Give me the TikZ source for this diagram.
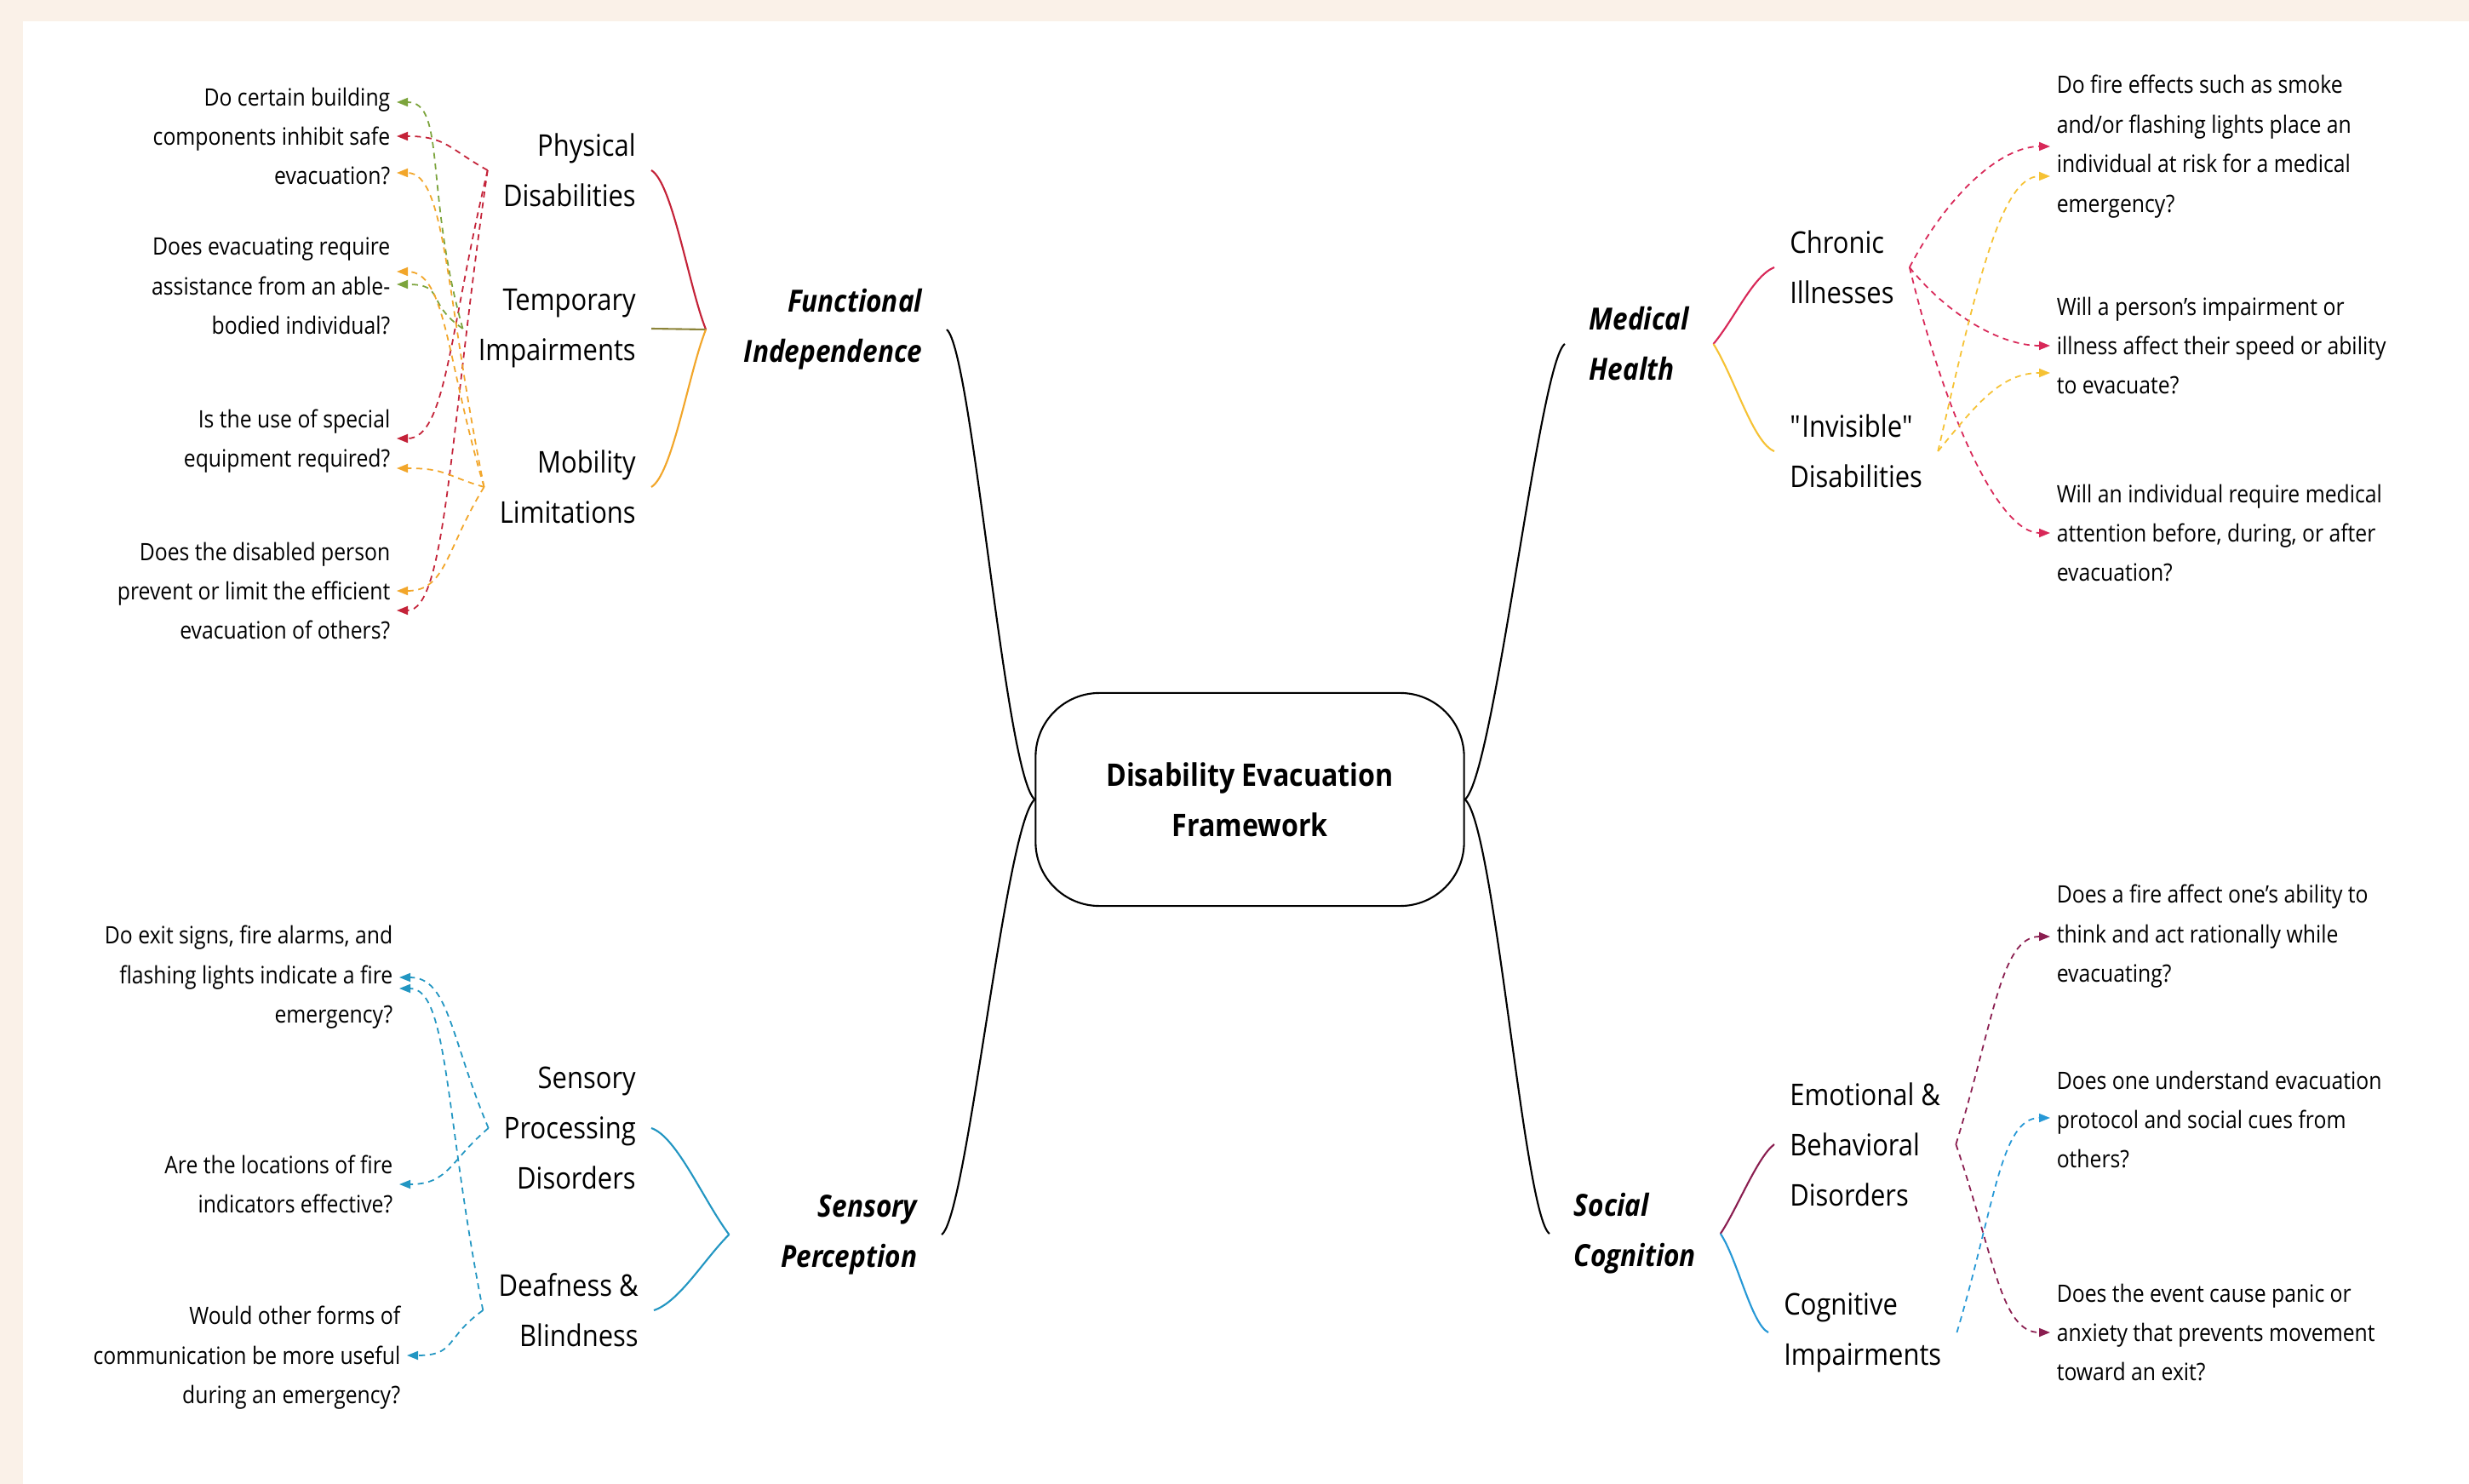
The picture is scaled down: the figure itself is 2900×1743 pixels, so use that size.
\documentclass[tikz,border=0pt]{standalone}
\usepackage{fontspec}
\setmainfont{Open Sans}[FakeStretch=0.88]
\usetikzlibrary{arrows.meta,calc}

\definecolor{ccpaper}{RGB}{250,241,232}
\definecolor{ccphys}{RGB}{196,34,56}
\definecolor{cctemp}{RGB}{124,164,60}
\definecolor{cctempline}{RGB}{140,132,58}
\definecolor{ccmob}{RGB}{242,166,42}
\definecolor{ccsens}{RGB}{34,150,194}
\definecolor{ccchron}{RGB}{216,40,88}
\definecolor{ccinvis}{RGB}{246,194,52}
\definecolor{ccemot}{RGB}{138,30,80}
\definecolor{cccog}{RGB}{38,152,214}

\begin{document}
\begin{tikzpicture}[x=0.01cm, y=-0.01cm,
  main/.style={font=\fontsize{10.2}{16.8}\selectfont\bfseries\itshape, inner sep=8pt},
  topic/.style={font=\fontsize{10}{16.8}\selectfont, inner sep=5pt},
  ask/.style={font=\fontsize{8}{13.2}\selectfont, inner sep=2pt},
  branch/.style={line width=0.6pt},
  link/.style={line width=0.5pt, dash pattern=on 2pt off 1.6pt, -{Triangle[length=1.3mm,width=1mm]}}]

  % Paper
  \fill[ccpaper] (0,0) rectangle (2900,1743);
  \fill[white] (27,25) rectangle (2900,1743);

  % Centre
  \node[draw, line width=0.6pt, rounded corners=0.75cm, minimum width=5.03cm, minimum height=2.5cm,
        align=center, font=\fontsize{10.4}{16.8}\selectfont\bfseries] (def) at (1468,939)
        {Disability Evacuation\\Framework};

  % Main branches
  \node[main, anchor=east, align=right] (func) at (1112,387) {Functional\\Independence};
  \node[main, anchor=west, align=left] (med) at (1838,404) {Medical\\Health};
  \node[main, anchor=east, align=right] (sens) at (1106,1450) {Sensory\\Perception};
  \node[main, anchor=west, align=left] (soc) at (1820,1449) {Social\\Cognition};

  \draw[branch] (def.west) .. controls +(-35,-30) and +(30,25) .. (func.east);
  \draw[branch] (def.west) .. controls +(-35,30) and +(30,-20) .. (sens.east);
  \draw[branch] (def.east) .. controls +(35,-30) and +(-30,20) .. (med.west);
  \draw[branch] (def.east) .. controls +(35,30) and +(-30,-20) .. (soc.west);

  % Topics
  \node[topic, anchor=east, align=right] (phys) at (765,200) {Physical\\Disabilities};
  \node[topic, anchor=east, align=right] (temp) at (765,386) {Temporary\\Impairments};
  \node[topic, anchor=east, align=right] (mob) at (765,572) {Mobility\\Limitations};
  \node[topic, anchor=east, align=right] (spd) at (765,1325) {Sensory\\Processing\\Disorders};
  \node[topic, anchor=east, align=right] (deaf) at (768,1539) {Deafness \&\\Blindness};
  \node[topic, anchor=west, align=left] (chron) at (2084,314) {Chronic\\Illnesses};
  \node[topic, anchor=west, align=left] (invis) at (2084,530) {\textquotedbl Invisible\textquotedbl\\Disabilities};
  \node[topic, anchor=west, align=left] (emot) at (2084,1344) {Emotional \&\\Behavioral\\Disorders};
  \node[topic, anchor=west, align=left] (cog) at (2077,1565) {Cognitive\\Impairments};

  % Braces
  \coordinate (funcTip) at ($(func.west)+(-16,0)$);
  \coordinate (sensTip) at ($(sens.west)+(-32,0)$);
  \draw[branch, ccphys] (funcTip) .. controls +(-20,-50) and +(25,15) .. (phys.east);
  \draw[branch, cctempline] (funcTip) -- (temp.east);
  \draw[branch, ccmob] (funcTip) .. controls +(-20,50) and +(25,-15) .. (mob.east);
  \draw[branch, ccsens] (sensTip) .. controls +(-30,-40) and +(30,10) .. (spd.east);
  \draw[branch, ccsens] (sensTip) .. controls +(-30,30) and +(30,-10) .. (deaf.east);
  \draw[branch, ccchron] (med.east) .. controls +(25,-30) and +(-25,10) .. (chron.west);
  \draw[branch, ccinvis] (med.east) .. controls +(25,40) and +(-25,-10) .. (invis.west);
  \draw[branch, ccemot] (soc.east) .. controls +(20,-30) and +(-20,15) .. (emot.west);
  \draw[branch, cccog] (soc.east) .. controls +(20,30) and +(-20,-10) .. (cog.west);

  % Questions
  \node[ask, anchor=east, align=right] (fq1) at (466,160) {Do certain building\\components inhibit safe\\evacuation?};
  \node[ask, anchor=east, align=right] (fq2) at (466,336) {Does evacuating require\\assistance from an able-\\bodied individual?};
  \node[ask, anchor=east, align=right] (fq3) at (466,518) {Is the use of special\\equipment required?};
  \node[ask, anchor=east, align=right] (fq4) at (466,694) {Does the disabled person\\prevent or limit the efficient\\evacuation of others?};
  \node[ask, anchor=east, align=right] (pq1) at (469,1148) {Do exit signs, fire alarms, and\\flashing lights indicate a fire\\emergency?};
  \node[ask, anchor=east, align=right] (pq2) at (469,1391) {Are the locations of fire\\indicators effective?};
  \node[ask, anchor=east, align=right] (pq3) at (478,1595) {Would other forms of\\communication be more useful\\during an emergency?};
  \node[ask, anchor=west, align=left] (mq1) at (2408,172) {Do fire effects such as smoke\\and/or flashing lights place an\\individual at risk for a medical\\emergency?};
  \node[ask, anchor=west, align=left] (mq2) at (2408,406) {Will a person's impairment or\\illness affect their speed or ability\\to evacuate?};
  \node[ask, anchor=west, align=left] (mq3) at (2408,626) {Will an individual require medical\\attention before, during, or after\\evacuation?};
  \node[ask, anchor=west, align=left] (sq1) at (2408,1100) {Does a fire affect one's ability to\\think and act rationally while\\evacuating?};
  \node[ask, anchor=west, align=left] (sq2) at (2408,1315) {Does one understand evacuation\\protocol and social cues from\\others?};
  \node[ask, anchor=west, align=left] (sq3) at (2408,1565) {Does the event cause panic or\\anxiety that prevents movement\\toward an exit?};

  % Functional independence links
  \draw[link, ccphys] (phys.west) .. controls +(-45,-25) and +(58,0) .. (fq1.east);
  \draw[link, ccphys] (phys.west) .. controls +(-45,189) and +(58,0) .. ($(fq3.east)+(0,-3)$);
  \draw[link, ccphys] (phys.west) .. controls +(-45,310) and +(58,0) .. ($(fq4.east)+(0,23)$);
  \draw[link, cctemp] (temp.west) .. controls +(-45,-160) and +(58,0) .. ($(fq1.east)+(0,-40)$);
  \draw[link, cctemp] (temp.west) .. controls +(-45,-31) and +(58,0) .. ($(fq2.east)+(0,-2)$);
  \draw[link, ccmob] (mob.west) .. controls +(-45,-221) and +(58,0) .. ($(fq1.east)+(0,43)$);
  \draw[link, ccmob] (mob.west) .. controls +(-45,-152) and +(58,0) .. ($(fq2.east)+(0,-17)$);
  \draw[link, ccmob] (mob.west) .. controls +(-45,-13) and +(58,0) .. ($(fq3.east)+(0,32)$);
  \draw[link, ccmob] (mob.west) .. controls +(-45,73) and +(58,0) .. (fq4.east);

  % Sensory perception links
  \draw[link, ccsens] (spd.west) .. controls +(-45,-107) and +(58,0) .. (pq1.east);
  \draw[link, ccsens] (spd.west) .. controls +(-45,38) and +(58,0) .. (pq2.east);
  \draw[link, ccsens] (deaf.west) .. controls +(-45,-227) and +(58,0) .. ($(pq1.east)+(0,13)$);
  \draw[link, ccsens] (deaf.west) .. controls +(-45,32) and +(58,0) .. ($(pq3.east)+(0,-3)$);

  % Medical health links
  \draw[link, ccchron] (chron.east) .. controls +(45,-86) and +(-58,0) .. (mq1.west);
  \draw[link, ccchron] (chron.east) .. controls +(45,56) and +(-58,0) .. (mq2.west);
  \draw[link, ccchron] (chron.east) .. controls +(45,186) and +(-58,0) .. (mq3.west);
  \draw[link, ccinvis] (invis.east) .. controls +(45,-194) and +(-58,0) .. ($(mq1.west)+(0,35)$);
  \draw[link, ccinvis] (invis.east) .. controls +(45,-55) and +(-58,0) .. ($(mq2.west)+(0,32)$);

  % Social cognition links
  \draw[link, ccemot] (emot.east) .. controls +(45,-146) and +(-58,0) .. (sq1.west);
  \draw[link, ccemot] (emot.east) .. controls +(45,132) and +(-58,0) .. (sq3.west);
  \draw[link, cccog] (cog.east) .. controls +(45,-151) and +(-58,0) .. ($(sq2.west)+(0,-2)$);

\end{tikzpicture}
\end{document}
